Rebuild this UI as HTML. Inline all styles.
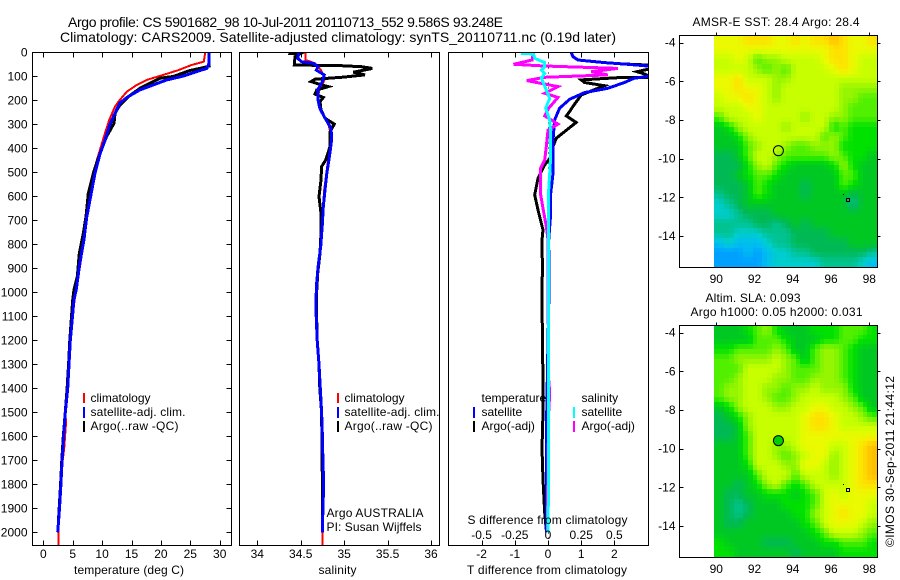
<!DOCTYPE html>
<html lang="en">
<head>
<meta charset="utf-8">
<title>Argo profile</title>
<style>
html,body{margin:0;padding:0;background:#fff;}
svg{display:block;font-family:"Liberation Sans",sans-serif;font-size:12px;fill:#000;}
text{fill:#000;}
</style>
</head>
<body>
<svg id="chart" xmlns="http://www.w3.org/2000/svg" width="900" height="580" viewBox="0 0 900 580">
  <defs>
    <clipPath id="clip-t"><rect x="32.5" y="52.5" width="199" height="493"/></clipPath>
    <clipPath id="clip-s"><rect x="239.5" y="52.5" width="200" height="493"/></clipPath>
    <clipPath id="clip-d"><rect x="448.5" y="52.5" width="200" height="493"/></clipPath>
  </defs>
  <g id="panels"></g>

  <text x="68" y="27" font-size="14" textLength="435">Argo profile: CS 5901682_98 10-Jul-2011 20110713_552 9.586S 93.248E</text>
  <text x="60" y="42" font-size="14" textLength="556">Climatology: CARS2009. Satellite-adjusted climatology: synTS_20110711.nc (0.19d later)</text>

  <text x="74" y="574" textLength="110">temperature (deg C)</text>
  <text x="318.5" y="574" textLength="38">salinity</text>
  <text x="467" y="574" textLength="160">T difference from climatology</text>
  <text x="467.5" y="524" textLength="160">S difference from climatology</text>

  <g>
    <line x1="84" x2="84" y1="393" y2="403" stroke="#f00" stroke-width="2" shape-rendering="crispEdges"/>
    <line x1="84" x2="84" y1="407" y2="418" stroke="#00f" stroke-width="2" shape-rendering="crispEdges"/>
    <line x1="84" x2="84" y1="421" y2="432" stroke="#000" stroke-width="2" shape-rendering="crispEdges"/>
    <text x="90.5" y="402">climatology</text>
    <text x="90.5" y="416" textLength="95">satellite-adj. clim.</text>
    <text x="90.5" y="430" textLength="88">Argo(..raw -QC)</text>
  </g>
  <g>
    <line x1="338" x2="338" y1="393" y2="403" stroke="#f00" stroke-width="2" shape-rendering="crispEdges"/>
    <line x1="338" x2="338" y1="407" y2="418" stroke="#00f" stroke-width="2" shape-rendering="crispEdges"/>
    <line x1="338" x2="338" y1="421" y2="432" stroke="#000" stroke-width="2" shape-rendering="crispEdges"/>
    <text x="344.5" y="402">climatology</text>
    <text x="344.5" y="416" textLength="95">satellite-adj. clim.</text>
    <text x="344.5" y="430" textLength="88">Argo(..raw -QC)</text>
  </g>
  <g>
    <text x="481.5" y="402">temperature</text>
    <text x="581.5" y="402">salinity</text>
    <line x1="474" x2="474" y1="407" y2="418" stroke="#00f" stroke-width="2" shape-rendering="crispEdges"/>
    <line x1="474" x2="474" y1="421" y2="432" stroke="#000" stroke-width="2" shape-rendering="crispEdges"/>
    <line x1="574" x2="574" y1="407" y2="418" stroke="#0ff" stroke-width="2" shape-rendering="crispEdges"/>
    <line x1="574" x2="574" y1="421" y2="432" stroke="#f0f" stroke-width="2" shape-rendering="crispEdges"/>
    <text x="481.5" y="416">satellite</text>
    <text x="481.5" y="430">Argo(-adj)</text>
    <text x="581.5" y="416">satellite</text>
    <text x="581.5" y="430">Argo(-adj)</text>
  </g>
  <text x="326.5" y="517" textLength="97">Argo AUSTRALIA</text>
  <text x="326.5" y="531" textLength="95">PI: Susan Wijffels</text>

  <text x="692.5" y="26" textLength="167">AMSR-E SST: 28.4  Argo: 28.4</text>
  <text x="705.5" y="302" textLength="95">Altim. SLA: 0.093</text>
  <text x="690.5" y="316" textLength="172">Argo h1000: 0.05 h2000: 0.031</text>
  <text transform="translate(894,547) rotate(-90)" textLength="171">©IMOS 30-Sep-2011 21:44:12</text>
</svg>

<script>
// ---------- Temperature panel data ----------
const tempClimDepth = [0,39,53,74,94,115,136,164,199,226,282,337,393,476,560,643,754,893,1018,1100,1200,1300,1400,1500,1550,1650,1700,1800,1900,2000,2055];
const tempClim = [27.55,27.3,25.2,23,20.4,17.6,15.9,14.2,13,12.2,11.2,10.5,9.8,8.8,8.05,7.45,7.1,6.24,5.4,4.97,4.6,4.37,4.15,3.8,3.85,3.55,3.3,3,2.73,2.55,2.55];
const tempSatDepth = [0,46,67,80,99,115,136,157,185,212,254,303,365,428,504,601,685,782,879,990,1032,1100,1200,1300,1400,1500,1600,1700,1800,1900,2000];
const tempSat = [28.2,28.2,27.8,26.1,23.8,21,18.7,16.4,14.4,13,12.2,11.3,10.5,9.6,8.8,8.05,7.4,6.9,6.2,5.6,5.2,4.97,4.6,4.37,4.15,3.75,3.45,3.2,3,2.75,2.45];
const tempArgoDepth = [56,67,76,101,108,129,150,185,219,254,296,351,421,504,588,685,754,838,935,990,1032,1200,1300,1400,1500,1600,1700,1800,1900,1960];
const tempArgo = [28.46,26.65,24.94,22.1,19.84,18.14,16.45,14.45,13.04,12.2,12.02,10.77,9.64,8.5,7.66,7.26,6.81,6.13,5.79,5.22,5,4.5,4.3,4.05,3.75,3.4,3.15,2.95,2.7,2.55];

// ---------- Salinity panel data ----------
const salClimDepth = [0,32,46,74,108,136,157,206,247,303,344,407,463,518,574,671,754,838,921,1004,1067,1200,1300,1400,1500,1700,1900,2055];
const salClim = [34.557,34.557,34.664,34.733,34.78,34.75,34.71,34.7,34.75,34.82,34.85,34.84,34.81,34.79,34.77,34.75,34.73,34.72,34.7,34.68,34.68,34.69,34.71,34.72,34.74,34.745,34.75,34.75];
const salSatDepth = [0,25,39,46,60,74,94,122,157,199,233,268,317,365,435,504,574,643,713,810,893,976,1067,1200,1300,1400,1500,1600,1700,1800,1900,2000];
const salSat = [34.48,34.465,34.51,34.645,34.7,34.68,34.77,34.75,34.695,34.7,34.72,34.77,34.85,34.855,34.83,34.8,34.78,34.76,34.75,34.73,34.7,34.68,34.675,34.69,34.71,34.725,34.74,34.75,34.755,34.765,34.755,34.75];
const salArgoDepth = [4,7,18,53,56,60,67,83,94,104,112,122,136,143,157,174,188,206,240,275,299,331,393,449,476,532,601,671,754,838,921,1018,1067,1200,1300,1400,1500,1650,1800,1950];
const salArgo = [34.357,34.49,34.434,34.426,34.97,35.2,35.325,35.106,35.24,34.97,34.664,34.618,34.74,34.818,34.684,34.664,34.76,34.722,34.733,34.78,34.887,34.837,34.837,34.787,34.74,34.733,34.71,34.733,34.733,34.722,34.695,34.68,34.68,34.69,34.71,34.72,34.74,34.745,34.75,34.75];

// ---------- Difference panel data ----------
const dtSatDepth = [0,18,32,43,50,57,67,94,101,108,126,150,168,196,233,282,365,504,588,671,782,1000,1200,1365,1600,2000];
const dtSat = [0.7,0.75,0.9,1.7,2.4,3,3.3,3.3,3,2.6,2.3,1.8,1.1,0.65,0.35,0.2,0.15,0.15,0.08,0.08,0.02,0.03,0,-0.02,-0.05,-0.05];
const dtArgoDepth = [49,53,57,67,71,81,90,97,100,104,106,115,126,139,178,226,247,265,292,358,393,435,469,525,594,657,740,782,900,1000,1200,1365,1500,1650,1780,1920,1990];
const dtArgo = [2.35,3,3.4,3.4,3,2.68,2.9,3,3.3,3,2.1,1,1.1,1.7,1,0.75,0.65,0.55,0.85,0.25,0.15,0.1,-0.1,-0.3,-0.4,-0.3,-0.15,-0.18,-0.17,-0.18,-0.17,-0.15,-0.15,-0.18,-0.15,-0.1,-0.05];
const dsArgoDepth = [0,32,50,57,67,81,94,104,118,143,171,188,233,265,299,324,393,449,483,594,643,726,782,1000,1365,1420,1500,1700,2000];
const dsArgo = [-0.11,-0.12,-0.26,-0.025,0.525,0.325,0.45,-0.025,-0.16,0.075,-0.025,0.075,0.005,-0.025,0.075,0,-0.0125,-0.025,-0.055,-0.055,-0.04,-0.0125,0,0,0.005,0.0125,0.005,0,-0.005];
const dsSatDepth = [4,7,25,43,60,74,88,108,157,192,233,282,338,435,574,782,1000,1365,1700,2000];
const dsSat = [-0.205,-0.11,-0.1,-0.025,-0.025,-0.05,-0.025,-0.05,-0.0125,0.0125,-0.0175,0.0125,0.02,0.02,0.005,0.005,0.005,0.002,0.005,0];

// ---------- Tick labels ----------
const depthTicks = [0,100,200,300,400,500,600,700,800,900,1000,1100,1200,1300,1400,1500,1600,1700,1800,1900,2000];
const tempTicks = [0,5,10,15,20,25,30];
const salTicks = [34,34.5,35,35.5,36];
const salTickLabels = ['34','34.5','35','35.5','36'];
const dtTicks = [-2,-1,0,1,2];
const dtTickLabels = ['-2','-1','0','1','2'];
const dsTicks = [-0.5,-0.25,0,0.25,0.5];
const dsTickLabels = ['-0.5','-0.25','0','0.25','0.5'];
const lonTicks = [90,92,94,96,98];
const latTicks = [-4,-6,-8,-10,-12,-14];

// ---------- Map data (colour level read per 0.5 degree, 0 = lowest, 12 = highest) ----------
const sstGrid = [
[10,10,10,11,11,11,10,10,11,10,11,11,12,11,10,10,11],
[10,10,10,10,10,10,10,10,10,10,10,10,11,11,10,10,10],
[9,9,10,9,7,8,8,9,9,9,9,10,11,11,10,9,9],
[9,9,9,9,8,7,8,7,9,9,9,9,10,11,10,9,9],
[10,10,11,9,9,9,8,8,9,9,9,9,9,9,9,9,9],
[10,10,11,10,10,9,8,9,9,9,9,9,9,8,8,8,8],
[9,10,10,11,10,9,8,9,9,9,9,9,9,8,8,7,7],
[9,9,9,10,10,9,9,9,9,9,9,9,9,8,7,7,7],
[7,9,9,9,10,9,9,9,9,8,9,9,8,8,7,7,7],
[5,6,8,9,9,9,9,8,9,9,9,9,6,7,6,6,6],
[5,5,6,8,9,9,9,9,9,9,9,7,8,7,6,6,6],
[5,5,5,7,8,9,9,8,7,7,8,8,8,6,6,6,6],
[4,4,5,7,9,9,8,7,7,7,7,7,8,7,6,6,5],
[4,4,4,6,8,9,7,6,5,5,5,5,6,8,6,5,5],
[4,4,5,6,7,7,6,5,5,5,5,5,5,7,7,5,5],
[4,4,4,5,7,6,5,5,5,4,5,5,5,7,6,5,5],
[3,4,4,5,7,6,5,5,5,4,5,5,5,5,4,5,5],
[2,3,4,5,5,5,5,5,5,5,5,5,5,5,3,5,5],
[2,2,3,4,4,4,5,5,5,5,5,5,5,5,5,5,5],
[3,3,3,3,4,4,3,4,5,4,5,5,5,5,5,5,5],
[3,3,2,2,2,3,3,3,4,4,4,4,5,5,5,5,5],
[1,2,1,1,1,2,3,3,4,4,4,4,4,4,5,5,5],
[0,0,0,1,0,1,2,2,3,3,4,4,4,4,4,4,3],
[0,0,0,0,0,1,2,2,2,2,2,3,3,3,3,2,1]
];
const slaGrid = [
[5,5,5,6,7,8,6,5,5,5,6,6,6,7,7,7,6],
[5,5,5,5,7,7,7,6,5,5,5,6,6,7,7,6,6],
[6,6,7,7,7,7,8,7,5,5,7,8,8,7,6,5,5],
[7,7,8,8,8,8,9,8,7,5,7,8,8,7,6,5,5],
[7,7,7,9,9,9,9,8,7,7,7,8,8,7,6,5,5],
[7,7,8,9,9,9,8,8,7,7,8,8,8,7,6,5,5],
[7,8,8,9,9,8,8,7,8,8,9,8,8,8,6,5,5],
[7,8,8,9,9,8,7,7,8,9,9,9,9,8,7,5,5],
[5,6,8,9,9,9,8,8,9,9,10,10,9,9,8,7,5],
[4,5,6,8,9,9,9,9,9,10,11,11,10,9,9,8,7],
[4,4,5,8,9,9,9,9,9,10,11,11,10,9,9,9,9],
[4,4,5,7,9,9,9,9,9,10,10,10,10,10,10,10,10],
[5,5,5,7,9,9,8,8,9,10,10,10,9,9,10,11,12],
[5,5,5,7,9,9,8,7,8,9,10,10,8,9,10,11,12],
[5,5,5,6,9,9,9,8,8,10,10,9,8,9,10,11,12],
[5,5,5,5,7,9,9,9,7,9,9,9,8,9,10,11,12],
[5,5,4,5,6,8,9,7,6,7,9,9,9,9,10,11,11],
[5,4,4,5,5,6,6,6,5,6,7,9,10,9,10,10,10],
[5,4,3,4,5,5,5,6,6,6,7,9,10,10,10,10,9],
[5,4,3,4,5,5,5,5,6,6,8,9,10,11,10,10,9],
[5,4,4,5,5,5,5,5,5,6,7,9,10,10,10,9,8],
[5,5,5,5,5,5,5,5,5,5,6,7,9,9,9,8,7],
[6,5,5,5,5,4,4,4,5,5,5,6,6,7,7,7,6],
[6,6,5,5,5,5,5,5,4,5,5,5,5,6,6,6,6]
];
const gridLonStart = 89.9;
const gridLonStep = 0.5;
const gridLatStart = -3.6;
const gridLatStep = -0.5;
const floatLon = 93.248;
const floatLat = -9.586;
const nearbyLons = [96.6,96.87];
const nearbyLats = [-11.82,-12.13];

const palette = [[0,160,255],[0,190,240],[0,205,205],[0,195,145],[0,185,85],[0,200,35],[0,225,0],[80,240,0],[150,245,0],[200,255,0],[235,250,0],[255,225,0],[255,190,0]];
const SVGNS = 'http://www.w3.org/2000/svg';
const root = document.getElementById('panels');

function mk(parent, tag, attrs, content) {
  const el = document.createElementNS(SVGNS, tag);
  for (const k in attrs) el.setAttribute(k, attrs[k]);
  if (content !== undefined) el.textContent = content;
  parent.appendChild(el);
  return el;
}
function linear(d0, d1, r0, r1) {
  return v => r0 + (v - d0) * (r1 - r0) / (d1 - d0);
}
function levelColor(v) {
  const lo = Math.max(0, Math.min(palette.length - 1, Math.floor(v)));
  const hi = Math.min(palette.length - 1, lo + 1);
  const f = v - lo;
  const c = [0, 1, 2].map(i => Math.round(palette[lo][i] + (palette[hi][i] - palette[lo][i]) * f));
  return 'rgb(' + c.join(',') + ')';
}
// Native map pixels are a quarter degree: resample the half-degree readings onto them.
function sampleGrid(grid, r, c) {
  const rn = grid.length - 1, cn = grid[0].length - 1;
  const rr = Math.max(0, Math.min(rn, r)), cc = Math.max(0, Math.min(cn, c));
  const r0 = Math.floor(rr), c0 = Math.floor(cc);
  const r1 = Math.min(rn, r0 + 1), c1 = Math.min(cn, c0 + 1);
  const fr = rr - r0, fc = cc - c0;
  const top = grid[r0][c0] * (1 - fc) + grid[r0][c1] * fc;
  const bot = grid[r1][c0] * (1 - fc) + grid[r1][c1] * fc;
  return top * (1 - fr) + bot * fr;
}
const depthY = linear(0, 2000, 52.3, 532.3);
const tempX = linear(0, 30, 43.3, 219.7);
const salX = linear(34, 36, 257.3, 431);
const dtX = linear(0, 2, 548, 614.4);
const dsX = linear(0, 0.5, 548, 614.4);

function drawSeries(group, name, depths, values, xFn, color, width, clip) {
  const pts = depths.map((d, i) => xFn(values[i]).toFixed(1) + ',' + depthY(d).toFixed(1)).join(' ');
  const el = mk(group, 'polyline', {points: pts, fill: 'none', stroke: color, 'stroke-width': width, 'clip-path': 'url(#' + clip + ')', 'stroke-linejoin': 'miter', 'shape-rendering': 'crispEdges'});
  
  
}

function drawFrame(group, x0, y0, x1, y1) {
  const el = mk(group, 'rect', {x: x0, y: y0, width: x1 - x0, height: y1 - y0, fill: 'none', stroke: '#000', 'stroke-width': 1, 'shape-rendering': 'crispEdges'});
  
  
}

function tickLine(group, x1, y1, x2, y2) {
  const el = mk(group, 'line', {x1: x1, y1: y1, x2: x2, y2: y2, stroke: '#000', 'stroke-width': 1, 'shape-rendering': 'crispEdges'});
  
  
}

function xTicks(group, ticks, labels, xFn, top, bottom, labelY) {
  ticks.forEach((t, i) => {
    const x = Math.round(xFn(t)) + 0.5;
    tickLine(group, x, top, x, top + 5);
    tickLine(group, x, bottom, x, bottom - 5);
    const lab = mk(group, 'text', {x: xFn(t), y: labelY, 'text-anchor': 'middle'}, labels[i]);
    
    
  });
}

// ---------- Temperature panel ----------
const gT = mk(root, 'g', {});


drawSeries(gT, 'temperature-climatology-line', tempClimDepth, tempClim, tempX, '#f00', 2, 'clip-t');
drawSeries(gT, 'temperature-argo-line', tempArgoDepth, tempArgo, tempX, '#000', 3, 'clip-t');
drawSeries(gT, 'temperature-satellite-line', tempSatDepth, tempSat, tempX, '#00f', 3, 'clip-t');
drawFrame(gT, 32.5, 52.5, 231.5, 545.5);
xTicks(gT, tempTicks, tempTicks.map(String), tempX, 52.5, 545.5, 558);
depthTicks.forEach(d => {
  const y = Math.round(depthY(d)) + 0.5;
  tickLine(gT, 32.5, y, 37.5, y);
  tickLine(gT, 231.5, y, 226.5, y);
  const lab = mk(gT, 'text', {x: 27.5, y: depthY(d) + 4, 'text-anchor': 'end'}, String(d));
  
  
});

// ---------- Salinity panel ----------
const gS = mk(root, 'g', {});


drawSeries(gS, 'salinity-climatology-line', salClimDepth, salClim, salX, '#f00', 2, 'clip-s');
drawSeries(gS, 'salinity-argo-line', salArgoDepth, salArgo, salX, '#000', 3, 'clip-s');
drawSeries(gS, 'salinity-satellite-line', salSatDepth, salSat, salX, '#00f', 3, 'clip-s');
drawFrame(gS, 239.5, 52.5, 439.5, 545.5);
xTicks(gS, salTicks, salTickLabels, salX, 52.5, 545.5, 558);

// ---------- Difference panel ----------
const gD = mk(root, 'g', {});


const zeroLine = mk(gD, 'line', {x1: 548.5, x2: 548.5, y1: 52.5, y2: 545.5, stroke: '#000', 'stroke-width': 1, 'stroke-dasharray': '1 4', 'shape-rendering': 'crispEdges'});


drawSeries(gD, 't-difference-argo-line', dtArgoDepth, dtArgo, dtX, '#000', 3, 'clip-d');
drawSeries(gD, 't-difference-satellite-line', dtSatDepth, dtSat, dtX, '#00f', 3, 'clip-d');
drawSeries(gD, 's-difference-argo-line', dsArgoDepth, dsArgo, dsX, '#f0f', 3, 'clip-d');
drawSeries(gD, 's-difference-satellite-line', dsSatDepth, dsSat, dsX, '#0ff', 3, 'clip-d');
drawFrame(gD, 448.5, 52.5, 648.5, 545.5);
xTicks(gD, dtTicks, dtTickLabels, dtX, 52.5, 545.5, 558);
dsTicks.forEach((t, i) => {
  const lab = mk(gD, 'text', {x: dsX(t), y: 539, 'text-anchor': 'middle'}, dsTickLabels[i]);
  
  
});

// ---------- Maps ----------
function drawMap(name, grid, top, bottom, labelY, circleFill) {
  const g = mk(root, 'g', {});
  
  
  const lonX = linear(90, 98, 716.3, 869.3);
  const latY = linear(-4, -14, top + 7.7, top + 201);
  const rows = grid.length * 2, cols = grid[0].length * 2;
  for (let r = 0; r < rows; r++) {
    for (let c = 0; c < cols; c++) {
      const x0 = Math.round(lonX(gridLonStart + c / 2 * gridLonStep));
      const x1 = Math.round(lonX(gridLonStart + (c + 1) / 2 * gridLonStep));
      const y0 = Math.round(latY(gridLatStart + r / 2 * gridLatStep));
      const y1 = Math.round(latY(gridLatStart + (r + 1) / 2 * gridLatStep));
      const v = sampleGrid(grid, (r + 0.5) / 2 - 0.5, (c + 0.5) / 2 - 0.5);
      const cell = mk(g, 'rect', {x: x0, y: y0, width: x1 - x0, height: y1 - y0, fill: levelColor(v), 'shape-rendering': 'crispEdges'});
      
      
    }
  }
  drawFrame(g, 679.5, top + 0.5, 877.5, bottom + 0.5);
  lonTicks.forEach(t => {
    const x = Math.round(lonX(t)) + 0.5;
    tickLine(g, x, top + 0.5, x, top - 2.5);
    const lab = mk(g, 'text', {x: lonX(t), y: labelY, 'text-anchor': 'middle'}, String(t));
    
    
  });
  latTicks.forEach(t => {
    const y = Math.round(latY(t)) + 0.5;
    tickLine(g, 679.5, y, 683.5, y);
    tickLine(g, 877.5, y, 880.5, y);
    const lab = mk(g, 'text', {x: 675.5, y: latY(t) + 4, 'text-anchor': 'end'}, String(t));
    
    
  });
  const circle = mk(g, 'circle', {cx: lonX(floatLon), cy: latY(floatLat), r: 5, fill: circleFill, stroke: '#000', 'stroke-width': 1});
  
  
  const dot = mk(g, 'rect', {x: Math.round(lonX(nearbyLons[0])), y: Math.round(latY(nearbyLats[0])), width: 1, height: 1, fill: '#000', 'shape-rendering': 'crispEdges'});
  
  
  const sq = mk(g, 'rect', {x: Math.round(lonX(nearbyLons[1])) - 1.5, y: Math.round(latY(nearbyLats[1])) - 1.5, width: 3, height: 3, fill: 'none', stroke: '#000', 'stroke-width': 1, 'shape-rendering': 'crispEdges'});
  
  
}
drawMap('sst-map', sstGrid, 35, 267, 283, 'none');
drawMap('sla-map', slaGrid, 325, 557, 573, '#00d000');
</script>
</body>
</html>
